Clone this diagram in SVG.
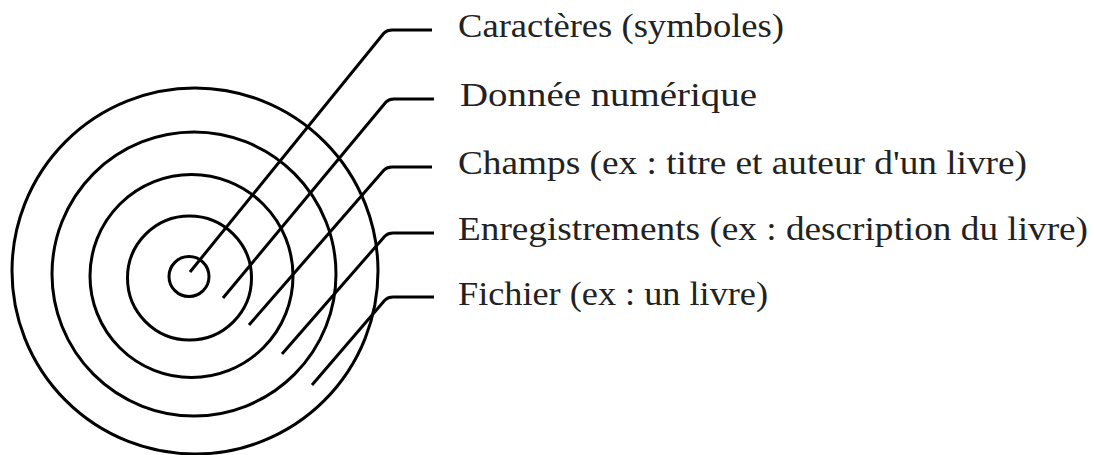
<svg xmlns="http://www.w3.org/2000/svg" width="1094" height="455" viewBox="0 0 1094 455">
<style>
.ring{fill:none;stroke:#000;stroke-width:3}
.lead{fill:none;stroke:#000;stroke-width:3;stroke-linecap:butt;stroke-linejoin:round}
.lbl{font-family:"Liberation Serif",serif;font-size:33px;fill:#222}
</style>
<rect width="1094" height="455" fill="#fff"/>
<g id="rings">
<circle id="ring5" class="ring" cx="195" cy="271" r="183"/>
<circle id="ring4" class="ring" cx="194" cy="274" r="142"/>
<circle id="ring3" class="ring" cx="191.5" cy="276" r="101.5"/>
<circle id="ring2" class="ring" cx="189.5" cy="278" r="62"/>
<circle id="ring1" class="ring" cx="189" cy="276.5" r="20"/>
</g>
<g id="connectors">
<path class="lead" d="M190,272 L384,33 Q387,30 392,30 L432,30"/>
<path class="lead" d="M223,298 L386,102 Q389,99 394,99 L434,99"/>
<path class="lead" d="M249,325 L384,170 Q387,167 392,167 L432,167"/>
<path class="lead" d="M282,354 L385,236 Q388,233 393,233 L434,233"/>
<path class="lead" d="M312,385 L385,300 Q388,297 393,297 L434,297"/>
</g>
<g id="label1"><text class="lbl" x="458" y="37" textLength="326" lengthAdjust="spacingAndGlyphs">Caractères (symboles)</text></g>
<g id="label2"><text class="lbl" x="460" y="106" textLength="297" lengthAdjust="spacingAndGlyphs">Donnée numérique</text></g>
<g id="label3"><text class="lbl" x="458" y="174" textLength="569" lengthAdjust="spacingAndGlyphs">Champs (ex : titre et auteur d'un livre)</text></g>
<g id="label4"><text class="lbl" x="458" y="240" textLength="630" lengthAdjust="spacingAndGlyphs">Enregistrements (ex : description du livre)</text></g>
<g id="label5"><text class="lbl" x="458" y="305" textLength="310" lengthAdjust="spacingAndGlyphs">Fichier (ex : un livre)</text></g>
</svg>
